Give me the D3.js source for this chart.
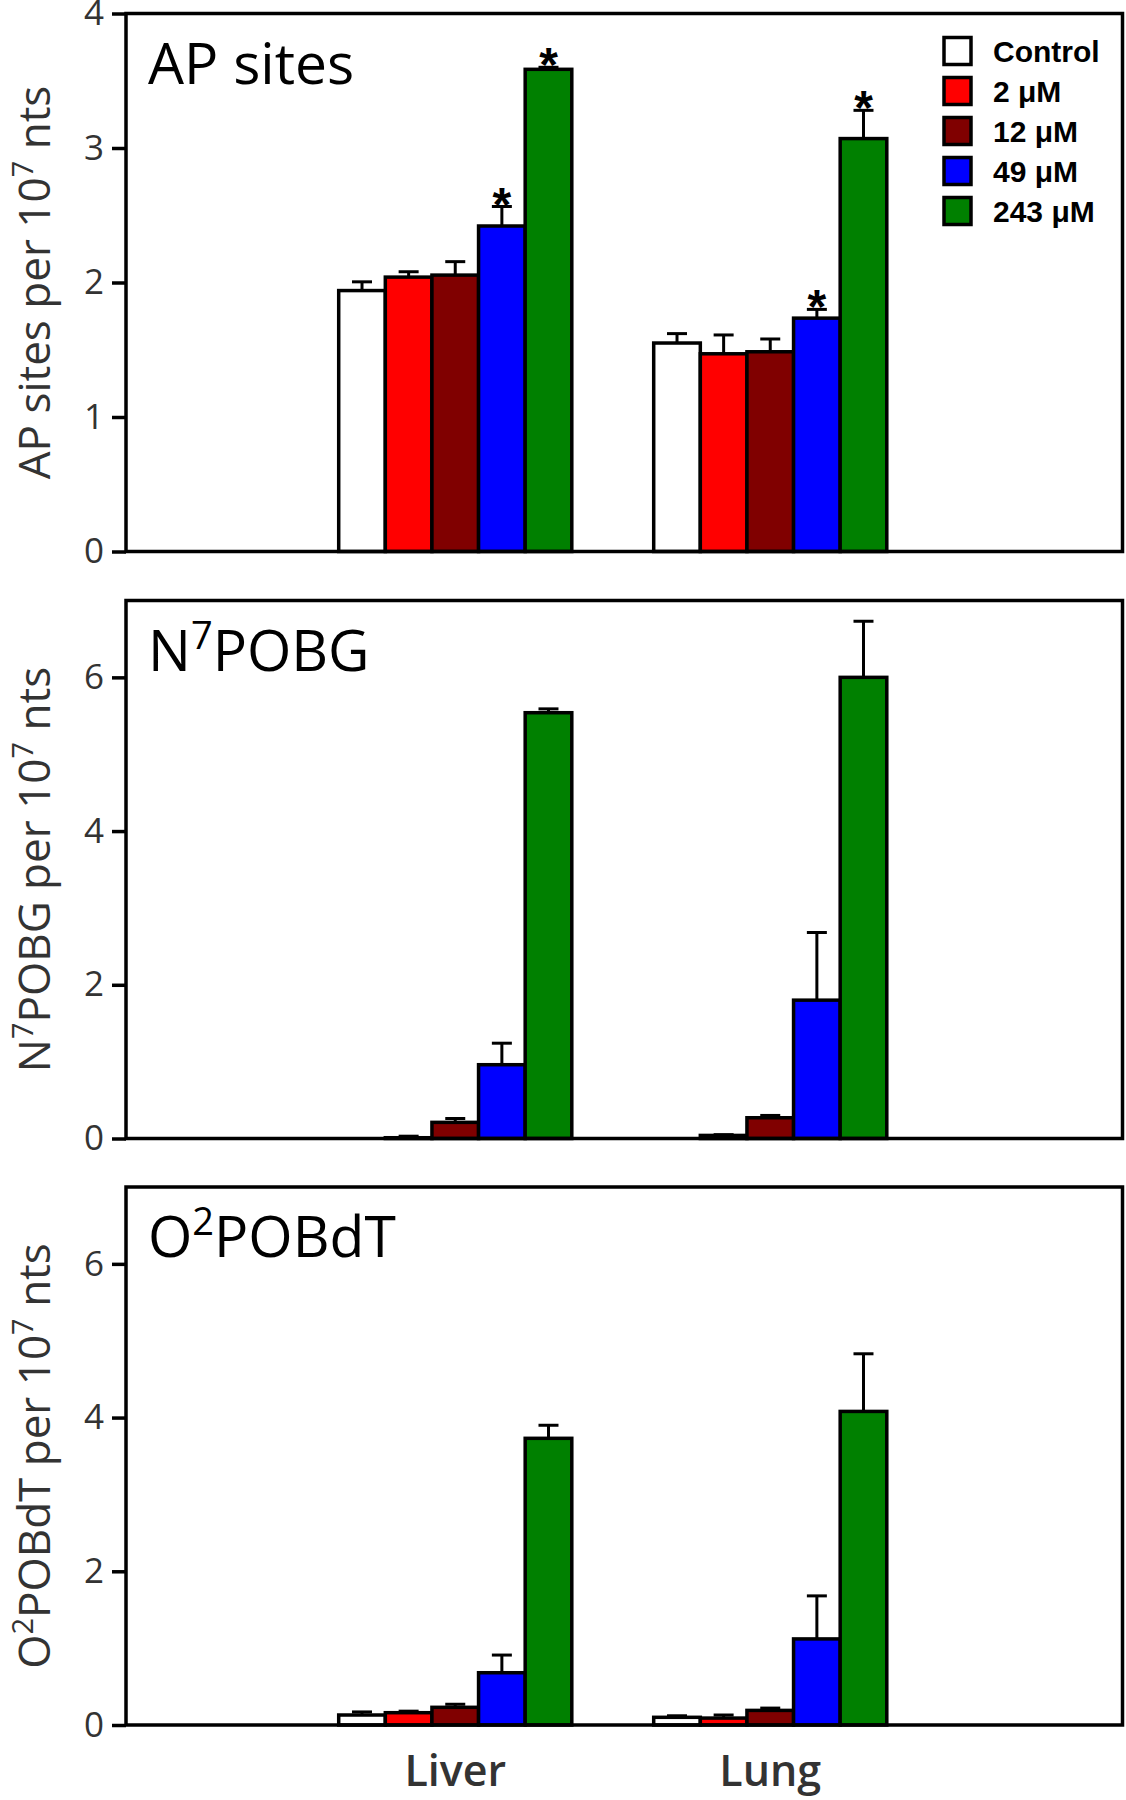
<!DOCTYPE html>
<html lang="en">
  <head>
    <meta charset="UTF-8" />
    <title>DNA adducts</title>
    <script src="https://cdn.jsdelivr.net/npm/d3@7"></script>
    <style>
      body { margin: 0; background: #fff; }
      svg { display: block; }
    </style>
  </head>
  <body>
    <script>
      // data
      var tissues = ["Liver", "Lung"];
      var doses = ["Control", "2 \u03BCM", "12 \u03BCM", "49 \u03BCM", "243 \u03BCM"];
      var doseColors = ["#ffffff", "#ff0000", "#800000", "#0000ff", "#008000"];

      var apMean = [[1.94, 2.04, 2.055, 2.42, 3.585], [1.55, 1.47, 1.485, 1.735, 3.07]];
      var apErr = [[0.065, 0.04, 0.1, 0.145, 0.015], [0.07, 0.14, 0.095, 0.065, 0.21]];
      var apStar = [[0, 0, 0, 1, 1], [0, 0, 0, 1, 1]];

      var n7Mean = [[0, 0.01, 0.21, 0.96, 5.54], [0, 0.04, 0.27, 1.8, 6.0]];
      var n7Err = [[0, 0.02, 0.05, 0.28, 0.05], [0, 0.01, 0.03, 0.88, 0.73]];

      var o2Mean = [[0.13, 0.16, 0.23, 0.68, 3.73], [0.1, 0.09, 0.19, 1.12, 4.08]];
      var o2Err = [[0.04, 0.02, 0.04, 0.23, 0.17], [0.02, 0.04, 0.03, 0.56, 0.75]];

      var apTicks = [0, 1, 2, 3, 4];
      var adductTicks = [0, 2, 4, 6];

      var W = 1126, H = 1800;
      var left = 126, plotW = 996.5, plotH = 538;

      var svg = d3.select("body").append("svg")
        .attr("width", W)
        .attr("height", H);

      var x0 = d3.scaleBand()
        .domain(tissues)
        .range([212.7, 760.8])
        .paddingInner(0.26)
        .paddingOuter(0);

      var x1 = d3.scaleBand()
        .domain(doses)
        .range([0, x0.bandwidth()]);

      var panels = [
        { top: 13.5, max: 4, ticks: apTicks, mean: apMean, err: apErr, star: apStar,
          title: ["AP sites", null, ""], ylab: ["AP sites per 10", "7", " nts"], ylabPre: null },
        { top: 600.5, max: 7, ticks: adductTicks, mean: n7Mean, err: n7Err, star: null,
          title: ["N", "7", "POBG"], ylab: ["POBG per 10", "7", " nts"], ylabPre: ["N", "7"] },
        { top: 1187, max: 7, ticks: adductTicks, mean: o2Mean, err: o2Err, star: null,
          title: ["O", "2", "POBdT"], ylab: ["POBdT per 10", "7", " nts"], ylabPre: ["O", "2"] }
      ];

      panels.forEach(function (p, pi) {
        var g = svg.append("g").attr("transform", "translate(" + left + "," + p.top + ")");

        var y = d3.scaleLinear().domain([0, p.max]).range([plotH, 0]);

        // axis
        var axis = g.append("g")
          .call(d3.axisLeft(y).tickValues(p.ticks).tickSize(14).tickPadding(8).tickFormat(d3.format("d")));
        axis.select(".domain").remove();
        axis.selectAll(".tick line").attr("stroke", "#000").attr("stroke-width", 3.5);
        axis.selectAll(".tick text")
          .attr("fill", "#333")
          .attr("font-family", "'Open Sans', sans-serif")
          .attr("font-size", 35);

        var rows = [];
        tissues.forEach(function (t, ti) {
          doses.forEach(function (d, di) {
            rows.push({
              tissue: t, dose: d, color: doseColors[di],
              v: p.mean[ti][di], e: p.err[ti][di],
              star: p.star ? p.star[ti][di] : 0
            });
          });
        });

        var bx = function (d) { return x0(d.tissue) + x1(d.dose); };
        var bw = x1.bandwidth();

        // error bars
        var eb = g.selectAll(".err").data(rows.filter(function (d) { return d.e > 0; }))
          .enter().append("g").attr("class", "err");
        eb.append("line")
          .attr("x1", function (d) { return bx(d) + bw / 2; })
          .attr("x2", function (d) { return bx(d) + bw / 2; })
          .attr("y1", function (d) { return y(d.v); })
          .attr("y2", function (d) { return y(d.v + d.e); })
          .attr("stroke", "#000").attr("stroke-width", 3);
        eb.append("line")
          .attr("x1", function (d) { return bx(d) + bw / 2 - 10; })
          .attr("x2", function (d) { return bx(d) + bw / 2 + 10; })
          .attr("y1", function (d) { return y(d.v + d.e); })
          .attr("y2", function (d) { return y(d.v + d.e); })
          .attr("stroke", "#000").attr("stroke-width", 3);

        // bars
        g.selectAll(".bar").data(rows).enter().append("rect")
          .attr("class", "bar")
          .attr("x", bx)
          .attr("width", bw)
          .attr("y", function (d) { return y(d.v); })
          .attr("height", function (d) { return plotH - y(d.v); })
          .attr("fill", function (d) { return d.color; })
          .attr("stroke", "#000")
          .attr("stroke-width", 3.5);

        // significance stars
        g.selectAll(".star").data(rows.filter(function (d) { return d.star; }))
          .enter().append("text")
          .attr("x", function (d) { return bx(d) + bw / 2; })
          .attr("y", function (d) { return y(d.v + d.e) + 14; })
          .attr("text-anchor", "middle")
          .attr("font-family", "'Liberation Sans', Arial, sans-serif")
          .attr("font-weight", "bold")
          .attr("font-size", 48)
          .text("*");

        // frame
        g.append("rect")
          .attr("width", plotW).attr("height", plotH)
          .attr("fill", "none").attr("stroke", "#000").attr("stroke-width", 3.5);

        // panel title
        var tt = g.append("text")
          .attr("x", 22).attr("y", 70)
          .attr("font-family", "'Open Sans', sans-serif")
          .attr("font-size", 57)
          .attr("fill", "#000");
        tt.append("tspan").text(p.title[0]);
        if (p.title[1]) {
          tt.append("tspan").attr("dy", -22).attr("font-size", 38).text(p.title[1]);
          tt.append("tspan").attr("dy", 22).text(p.title[2]);
        }

        // y label
        var yl = svg.append("text")
          .attr("transform", "translate(50," + (p.top + plotH / 2) + ") rotate(-90)")
          .attr("text-anchor", "middle")
          .attr("font-family", "'Open Sans', sans-serif")
          .attr("font-size", 44)
          .attr("fill", "#333");
        if (p.ylabPre) {
          yl.append("tspan").text(p.ylabPre[0]);
          yl.append("tspan").attr("dy", -17).attr("font-size", 29).text(p.ylabPre[1]);
          yl.append("tspan").attr("dy", 17).text(p.ylab[0]);
        } else {
          yl.append("tspan").text(p.ylab[0]);
        }
        yl.append("tspan").attr("dy", -17).attr("font-size", 29).text(p.ylab[1]);
        yl.append("tspan").attr("dy", 17).text(p.ylab[2]);

        // x labels on bottom panel only
        if (pi === panels.length - 1) {
          g.selectAll(".xlab").data(tissues).enter().append("text")
            .attr("x", function (t) { return x0(t) + x0.bandwidth() / 2; })
            .attr("y", plotH + 61)
            .attr("text-anchor", "middle")
            .attr("font-family", "'Open Sans', sans-serif")
            .attr("font-weight", 600)
            .attr("font-size", 43)
            .attr("fill", "#333")
            .text(function (t) { return t; });
        }

        // legend in top panel
        if (pi === 0) {
          var lg = g.selectAll(".leg").data(doses).enter().append("g")
            .attr("class", "leg")
            .attr("transform", function (d, i) { return "translate(818," + (24 + i * 40) + ")"; });
          lg.append("rect")
            .attr("width", 27).attr("height", 27)
            .attr("fill", function (d, i) { return doseColors[i]; })
            .attr("stroke", "#000").attr("stroke-width", 3.5);
          lg.append("text")
            .attr("x", 49).attr("y", 24)
            .attr("font-family", "'Liberation Sans', Arial, sans-serif")
            .attr("font-weight", "bold")
            .attr("font-size", 30)
            .text(function (d) { return d; });
        }
      });
    </script>
  </body>
</html>
